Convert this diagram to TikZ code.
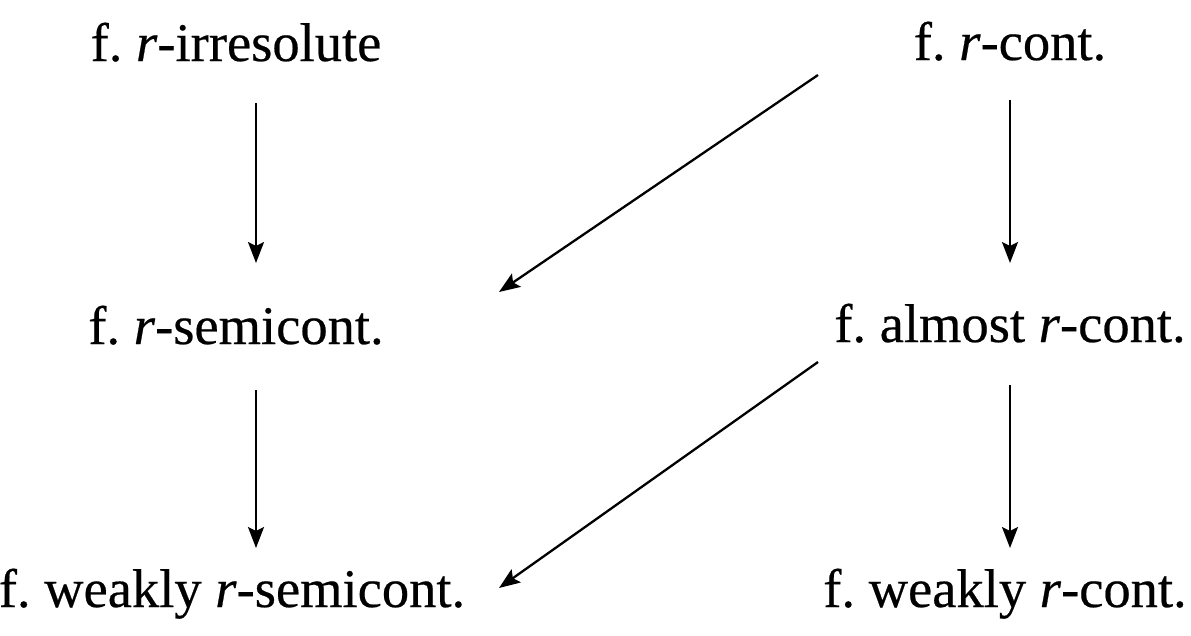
\documentclass[tikz,border=0pt]{standalone}
\usepackage{fontspec}
\setmainfont{Liberation Serif}
\newfontfamily\timesfont[FakeBold=0.4]{Liberation Serif}
\usetikzlibrary{arrows.meta}
\begin{document}
\begin{tikzpicture}[x=1pt,y=-1pt,
  lbl/.style={anchor=base,inner sep=0pt,font=\timesfont\fontsize{54.5}{62}\selectfont\frenchspacing},
  arr/.style={line width=2.3pt,-{Stealth[length=21pt,width=16pt,inset=4pt]}}]
\useasboundingbox[fill=white] (0,0) rectangle (1191,635);
\node[lbl] (irr)   at (236,61)  {f. \textit{r}-irresolute};
\node[lbl] (cont)  at (1010,60) {f. \textit{r}-cont.};
\node[lbl] (semi)  at (236,344) {f. \textit{r}-semicont.};
\node[lbl] (alm)   at (1010,342) {f. almost \textit{r}-cont.};
\node[lbl] (wsemi) at (232,607) {f. weakly \textit{r}-semicont.};
\node[lbl] (wcont) at (1005,607) {f. weakly \textit{r}-cont.};
\draw[arr] ([shift={(20,42)}]irr.base) -- ([shift={(20,-81)}]semi.base);
\draw[arr] ([shift={(20,46)}]semi.base) -- ([shift={(24,-59)}]wsemi.base);
\draw[arr] ([shift={(0,40)}]cont.base) -- ([shift={(0,-79)}]alm.base);
\draw[arr] ([shift={(0,43)}]alm.base) -- ([shift={(5,-59)}]wcont.base);
\draw[arr] ([shift={(-192,15)}]cont.base) -- ([shift={(263,-52)}]semi.base);
\draw[arr] ([shift={(-192,20)}]alm.base) -- ([shift={(267,-19)}]wsemi.base);
\end{tikzpicture}
\end{document}
